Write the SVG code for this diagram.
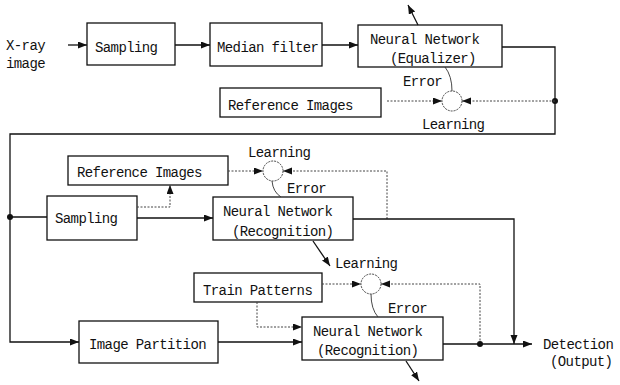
<svg xmlns="http://www.w3.org/2000/svg" width="620" height="385" viewBox="0 0 620 385">
<style>
  .box{fill:#fff;stroke:#111;stroke-width:1.3}
  .t{font-family:"Liberation Mono","Courier New",monospace;font-size:14px;letter-spacing:-0.6px;fill:#111}
  .ln{fill:none;stroke:#111;stroke-width:1.3}
  .dl{fill:none;stroke:#444;stroke-width:1;stroke-dasharray:2,1.5}
  .err{fill:none;stroke:#333;stroke-width:0.9}
  .circ{fill:#fff;stroke:#333;stroke-width:0.9;stroke-dasharray:2,1}
</style>
<defs>
  <marker id="ah" markerUnits="userSpaceOnUse" markerWidth="10" markerHeight="8" refX="9" refY="3.5" orient="auto">
    <path d="M0,0 L9,3.5 L0,7 z" fill="#111"/>
  </marker>
</defs>
<rect width="620" height="385" fill="#fff"/>

<g id="input"><text class="t" x="6" y="50">X-ray</text><text class="t" x="6" y="68">image</text></g>
<g id="sampling1"><rect class="box" x="87" y="23" width="88" height="42"/><text class="t" x="95" y="52">Sampling</text></g>
<g id="median"><rect class="box" x="210" y="23" width="112" height="43"/><text class="t" x="217" y="52">Median filter</text></g>
<g id="nn-eq"><rect class="box" x="358" y="25" width="144" height="42"/><text class="t" x="370" y="44">Neural Network</text><text class="t" x="390" y="63">(Equalizer)</text></g>
<g id="ref1"><rect class="box" x="220" y="88" width="161" height="29"/><text class="t" x="228" y="110">Reference Images</text></g>
<g id="learn1"><circle class="circ" cx="452" cy="101" r="10"/><text class="t" x="403" y="86">Error</text><text class="t" x="422" y="129">Learning</text></g>

<g id="ref2"><rect class="box" x="68" y="156" width="160" height="29"/><text class="t" x="77" y="177">Reference Images</text></g>
<g id="learn2"><circle class="circ" cx="273" cy="171" r="10"/><text class="t" x="248" y="157">Learning</text><text class="t" x="287" y="193">Error</text></g>
<g id="sampling2"><rect class="box" x="47" y="196" width="90" height="44"/><text class="t" x="55" y="223">Sampling</text></g>
<g id="nn-rec1"><rect class="box" x="213" y="197" width="140" height="43"/><text class="t" x="223" y="216">Neural Network</text><text class="t" x="232" y="236">(Recognition)</text></g>

<g id="train"><rect class="box" x="194" y="273" width="128" height="29"/><text class="t" x="203" y="295">Train Patterns</text></g>
<g id="learn3"><circle class="circ" cx="371" cy="284" r="10"/><text class="t" x="335" y="268">Learning</text><text class="t" x="388" y="313">Error</text></g>
<g id="partition"><rect class="box" x="79" y="321" width="139" height="42"/><text class="t" x="89" y="349">Image Partition</text></g>
<g id="nn-rec2"><rect class="box" x="302" y="317" width="141" height="43"/><text class="t" x="313" y="336">Neural Network</text><text class="t" x="317" y="355">(Recognition)</text></g>
<g id="output"><text class="t" x="543" y="349">Detection</text><text class="t" x="550" y="366">(Output)</text></g>

<g id="connectors">
  <line class="ln" x1="68" y1="45" x2="87" y2="45" marker-end="url(#ah)"/>
  <line class="ln" x1="175" y1="45" x2="210" y2="45" marker-end="url(#ah)"/>
  <line class="ln" x1="322" y1="45" x2="358" y2="45" marker-end="url(#ah)"/>
  <line class="ln" x1="418" y1="25" x2="408" y2="5" marker-end="url(#ah)"/>
  <polyline class="ln" points="502,47 555,47 555,134 10,134 10,342 79,342" marker-end="url(#ah)"/>
  <circle cx="555" cy="101" r="3" fill="#111"/>
  <line class="dl" x1="555" y1="101" x2="462" y2="101" marker-end="url(#ah)"/>
  <line class="dl" x1="387" y1="101" x2="442" y2="101" marker-end="url(#ah)"/>
  <path class="err" d="M445,67 Q452,76 452,91"/>

  <circle cx="10" cy="217" r="3" fill="#111"/>
  <line class="ln" x1="10" y1="217" x2="47" y2="217"/>
  <line class="ln" x1="137" y1="218" x2="213" y2="218" marker-end="url(#ah)"/>
  <polyline class="dl" points="137,207 170,207 170,185" marker-end="url(#ah)"/>
  <line class="dl" x1="228" y1="171" x2="263" y2="171" marker-end="url(#ah)"/>
  <polyline class="dl" points="387,219 387,171 283,171" marker-end="url(#ah)"/>
  <path class="err" d="M272,181 Q273,192 281,197"/>
  <polyline class="ln" points="353,219 514,219 514,344" marker-end="url(#ah)"/>
  <line class="ln" x1="313" y1="241" x2="330" y2="266" marker-end="url(#ah)" stroke-width="1"/>

  <line class="dl" x1="322" y1="284" x2="361" y2="284" marker-end="url(#ah)"/>
  <polyline class="dl" points="480,344 480,284 381,284" marker-end="url(#ah)"/>
  <polyline class="dl" points="257,302 257,327 302,327" marker-end="url(#ah)"/>
  <path class="err" d="M371,294 Q371,309 378,317"/>
  <line class="ln" x1="218" y1="342" x2="302" y2="342" marker-end="url(#ah)"/>
  <line class="ln" x1="443" y1="344" x2="532" y2="344" marker-end="url(#ah)"/>
  <circle cx="480" cy="344" r="3" fill="#111"/>
  <line class="ln" x1="406" y1="361" x2="419" y2="381" marker-end="url(#ah)" stroke-width="1"/>
</g>
</svg>
